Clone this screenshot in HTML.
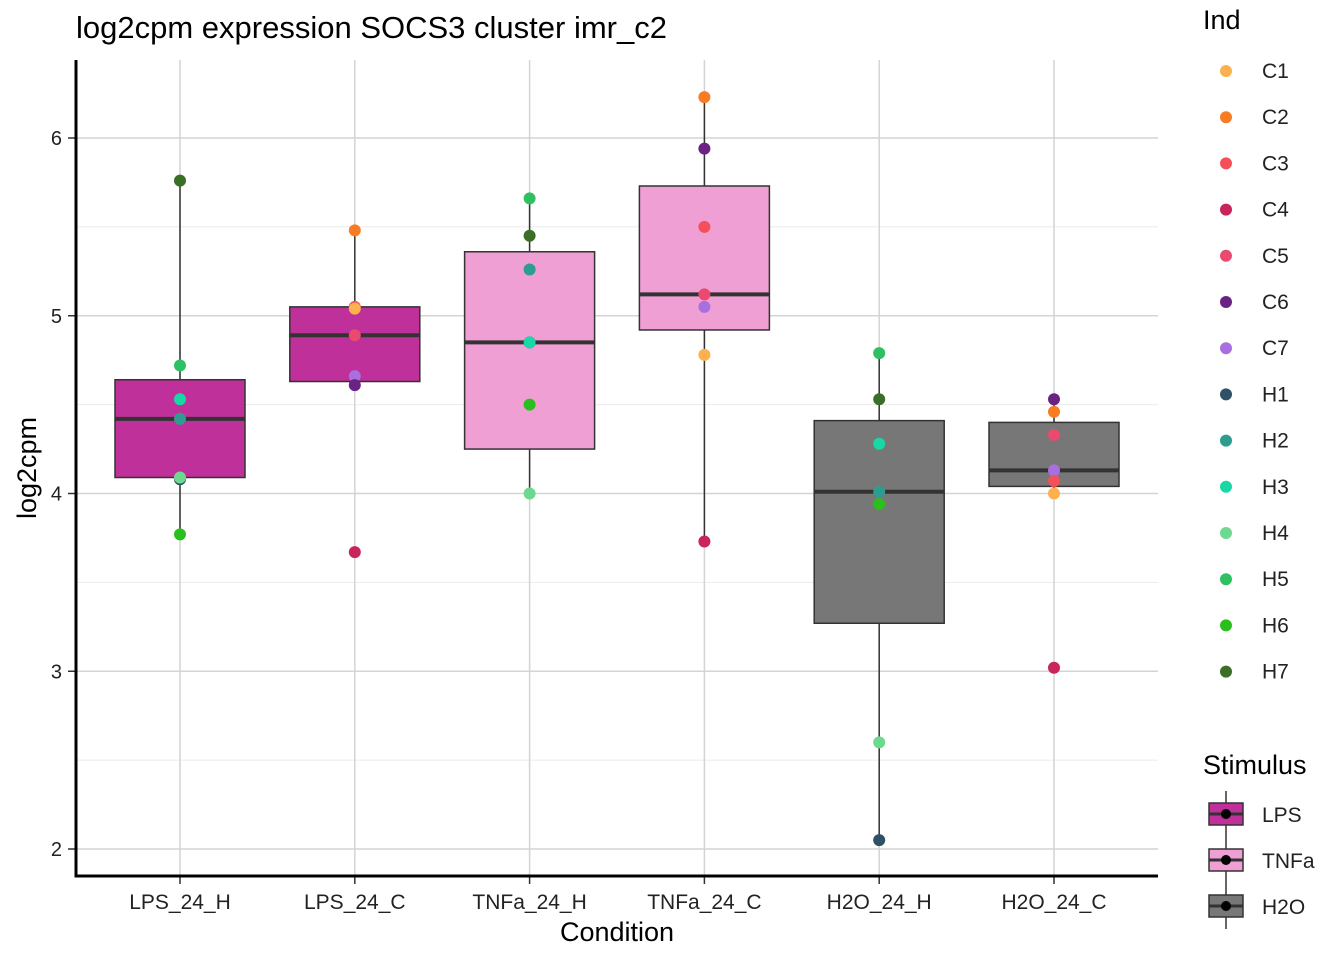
<!DOCTYPE html>
<html><head><meta charset="utf-8"><style>
body{margin:0;background:#fff;font-family:"Liberation Sans",sans-serif;}
svg{display:block}
</style></head><body>
<svg id="chart" width="1344" height="960" xmlns="http://www.w3.org/2000/svg" font-family="Liberation Sans, sans-serif"></svg>
<script>
const categories=["LPS_24_H","LPS_24_C","TNFa_24_H","TNFa_24_C","H2O_24_H","H2O_24_C"];
const stimulus=["LPS","LPS","TNFa","TNFa","H2O","H2O"];
const q1=[4.09,4.63,4.25,4.92,3.27,4.04];
const medians=[4.42,4.89,4.85,5.12,4.01,4.13];
const q3=[4.64,5.05,5.36,5.73,4.41,4.40];
const whiskerLow=[3.77,4.61,4.00,3.73,2.05,4.00];
const whiskerHigh=[5.76,5.48,5.66,6.23,4.79,4.53];
const pointInd=[
 ["H7","H5","H3","H2","H1","H4","H6"],
 ["C2","C3","C1","C5","C7","C6","C4"],
 ["H5","H7","H2","H1","H3","H6","H4"],
 ["C2","C6","C3","C5","C7","C1","C4"],
 ["H5","H7","H3","H2","H6","H4","H1"],
 ["C6","C2","C5","C7","C3","C1","C4"]];
const pointVals=[
 [5.76,4.72,4.53,4.42,4.08,4.09,3.77],
 [5.48,5.05,5.04,4.89,4.66,4.61,3.67],
 [5.66,5.45,5.26,4.85,4.85,4.50,4.00],
 [6.23,5.94,5.50,5.12,5.05,4.78,3.73],
 [4.79,4.53,4.28,4.01,3.94,2.60,2.05],
 [4.53,4.46,4.33,4.13,4.07,4.00,3.02]];
const yTicks=[2,3,4,5,6];
const indNames=["C1","C2","C3","C4","C5","C6","C7","H1","H2","H3","H4","H5","H6","H7"];
const indColors=["#FDB04E","#F97B24","#F4505A","#C9245B","#E94A6E","#6A2382","#A86FE0","#2E5166","#2E9D8F","#18D8A5","#6DD98E","#2EC063","#2BBF1D","#3B6E26"];
const stimNames=["LPS","TNFa","H2O"];
const stimColors=["#C0309A","#F09FD4","#777777"];

const NS="http://www.w3.org/2000/svg";
const svg=document.getElementById("chart");
function mk(tag,attrs,parent){const e=document.createElementNS(NS,tag);for(const k in attrs)e.setAttribute(k,attrs[k]);(parent||svg).appendChild(e);return e;}
const L=76,R=1158,T=60,B=876;
const y=v=>849-(v-2)*177.75;
const x=i=>180+i*174.8;
for(let v=2.5;v<6.5;v+=1){const g=mk("line",{x1:L,x2:R,y1:y(v),y2:y(v),stroke:"#ebebeb","stroke-width":1});

}
yTicks.forEach(v=>{const g=mk("line",{x1:L,x2:R,y1:y(v),y2:y(v),stroke:"#d4d4d4","stroke-width":1.5});


const t=mk("text",{x:62,y:y(v)+7,"text-anchor":"end","font-size":20,fill:"#222"});t.textContent=v;


mk("line",{x1:68,x2:76,y1:y(v),y2:y(v),stroke:"#333","stroke-width":1.5});});
categories.forEach((c,i)=>{const g=mk("line",{x1:x(i),x2:x(i),y1:T,y2:B,stroke:"#d4d4d4","stroke-width":1.5});

});
categories.forEach((c,i)=>{
 const col=stimColors[stimNames.indexOf(stimulus[i])];
 const w=mk("line",{x1:x(i),x2:x(i),y1:y(whiskerHigh[i]),y2:y(whiskerLow[i]),stroke:"#333","stroke-width":1.5});
 
 
 const b=mk("rect",{x:x(i)-65,y:y(q3[i]),width:130,height:y(q1[i])-y(q3[i]),fill:col,stroke:"#333","stroke-width":1.5});
 
 
 const m=mk("line",{x1:x(i)-65,x2:x(i)+65,y1:y(medians[i]),y2:y(medians[i]),stroke:"#333","stroke-width":4});
 
 
});
categories.forEach((c,i)=>{pointVals[i].forEach((v,j)=>{
 const p=mk("circle",{cx:x(i),cy:y(v),r:6,fill:indColors[indNames.indexOf(pointInd[i][j])]});
 
 
});
 const t=mk("text",{x:x(i),y:909,"text-anchor":"middle","font-size":21,fill:"#222"});t.textContent=c;
 
 
 mk("line",{x1:x(i),x2:x(i),y1:876,y2:884,stroke:"#333","stroke-width":1.5});
});
const ax=mk("line",{x1:L,x2:L,y1:T,y2:B+1.5,stroke:"#000","stroke-width":3});


const bx=mk("line",{x1:L-1.5,x2:R,y1:B,y2:B,stroke:"#000","stroke-width":3});


let t=mk("text",{x:76,y:38,"font-size":31,fill:"#000"});t.textContent="log2cpm expression SOCS3 cluster imr_c2";


t=mk("text",{x:617,y:941,"text-anchor":"middle","font-size":27,fill:"#000"});t.textContent="Condition";


t=mk("text",{x:36,y:468,"text-anchor":"middle","font-size":27,fill:"#000",transform:"rotate(-90 36 468)"});t.textContent="log2cpm";


t=mk("text",{x:1203,y:29,"font-size":27,fill:"#000"});t.textContent="Ind";


indNames.forEach((n,k)=>{const cy=71+k*46.2;
 const g=mk("g",{});
 
 
 mk("circle",{cx:1226,cy:cy,r:6,fill:indColors[k]},g);
 const tt=mk("text",{x:1262,y:cy+7,"font-size":21,fill:"#222"},g);tt.textContent=n;});
t=mk("text",{x:1203,y:774,"font-size":27,fill:"#000"});t.textContent="Stimulus";


stimNames.forEach((n,k)=>{const cy=814+k*46;
 const g=mk("g",{});
 
 
 mk("line",{x1:1226,x2:1226,y1:cy-23,y2:cy+23,stroke:"#333","stroke-width":1.5},g);
 mk("rect",{x:1209,y:cy-11,width:34,height:22,fill:stimColors[k],stroke:"#333","stroke-width":1.5},g);
 mk("line",{x1:1209,x2:1243,y1:cy,y2:cy,stroke:"#333","stroke-width":3},g);
 mk("circle",{cx:1226,cy:cy,r:5,fill:"#000"},g);
 const tt=mk("text",{x:1262,y:cy+8,"font-size":21,fill:"#222"},g);tt.textContent=n;});
</script>
</body></html>
